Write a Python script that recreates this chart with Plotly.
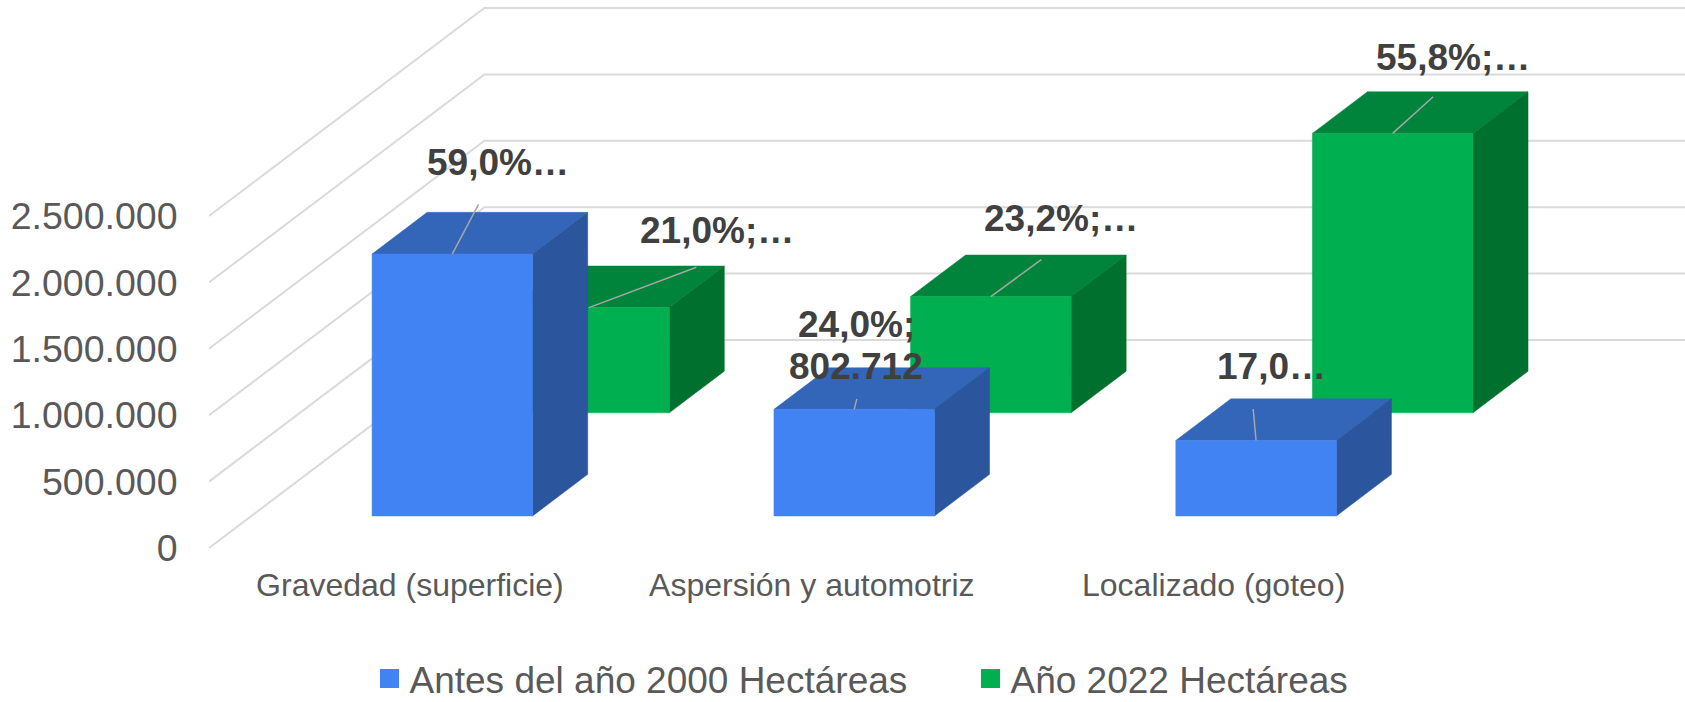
import plotly.graph_objects as go

categories = ["Gravedad (superficie)", "Aspersión y automotriz", "Localizado (goteo)"]
antes_2000 = [1973000, 802712, 568600]
ano_2022 = [792000, 875000, 2104000]
antes_labels = [["59,0%…"], ["24,0%;", "802.712"], ["17,0…"]]
ano_labels = [["21,0%;…"], ["23,2%;…"], ["55,8%;…"]]
y_ticks = [0, 500000, 1000000, 1500000, 2000000, 2500000]
y_tick_labels = ["0", "500.000", "1.000.000", "1.500.000", "2.000.000", "2.500.000"]
series_names = ["Antes del año 2000 Hectáreas", "Año 2022 Hectáreas"]

W, H = 1685, 702
ML, MB = 208.5, 154
PX_X = 402.0          # px per category
PX_Y = 66.4 / 500000  # px per hectare
BAR_W = 160.6 / PX_X
WALL_X = 275.5 / PX_X          # depth direction in category units
WALL_Y = 208.0 / PX_Y          # depth direction in hectares
BAR_DEPTH = 0.2
DEPTH_BLUE, DEPTH_GREEN = 0.154, 0.65
BLUE = ("#4283F3", "#3366B8", "#2B559C")
GREEN = ("#00B050", "#00843C", "#00702F")

traces = []


def poly(xs, ys, color):
    traces.append(go.Scatter(x=xs, y=ys, mode="lines", fill="toself", fillcolor=color,
                             line=dict(color=color, width=0.5), hoverinfo="skip", showlegend=False))


# wall and back gridlines
for t in y_ticks:
    traces.append(go.Scatter(
        x=[-0.5, -0.5 + WALL_X, 2.5 + WALL_X],
        y=[t, t + WALL_Y, t + WALL_Y],
        mode="lines", line=dict(color="#DADADA", width=2), hoverinfo="skip", showlegend=False))


def bar(i, value, depth, colors):
    x0 = i + depth * WALL_X - BAR_W / 2
    x1 = x0 + BAR_W
    y0 = depth * WALL_Y
    y1 = y0 + value
    dx = BAR_DEPTH * WALL_X
    dy = BAR_DEPTH * WALL_Y
    poly([x0, x1, x1 + dx, x0 + dx, x0], [y1, y1, y1 + dy, y1 + dy, y1], colors[1])
    poly([x1, x1 + dx, x1 + dx, x1, x1], [y0, y0 + dy, y1 + dy, y1, y0], colors[2])
    poly([x0, x1, x1, x0, x0], [y0, y0, y1, y1, y0], colors[0])
    return (x0 + x1) / 2, y1


annotations = []


def label(pt, lines, tx, ty, lx, ly):
    # leader from bar top (px offsets lx, ly) and label text (px offsets tx, ty per line)
    annotations.append(dict(x=pt[0], y=pt[1], ax=lx, ay=ly, axref="pixel", ayref="pixel",
                            text="", showarrow=True, arrowhead=0, arrowwidth=1.5,
                            arrowcolor="#A6A6A6", standoff=0, startstandoff=0))
    for k, line in enumerate(lines):
        annotations.append(dict(x=pt[0], y=pt[1], text=line, showarrow=False,
                                xshift=tx, yshift=ty - 42 * k,
                                font=dict(family="Liberation Sans", size=37, color="#404040", weight="bold")))


green_tops = [bar(i, v, DEPTH_GREEN, GREEN) for i, v in enumerate(ano_2022)]
blue_tops = [bar(i, v, DEPTH_BLUE, BLUE) for i, v in enumerate(antes_2000)]

label(blue_tops[0], antes_labels[0], 46, 91, 27, -51)
label(blue_tops[1], antes_labels[1], 2, 85, 3, -12)
label(blue_tops[2], antes_labels[2], 15, 74, -3, -33)
label(green_tops[0], ano_labels[0], 128, 77, 109, -41)
label(green_tops[1], ano_labels[1], 70, 78, 52, -38)
label(green_tops[2], ano_labels[2], 60, 76, 42, -38)

for name, color in zip(series_names, (BLUE[0], GREEN[0])):
    traces.append(go.Scatter(x=[None], y=[None], mode="markers", name=name,
                             marker=dict(symbol="square", size=16, color=color,
                                         line=dict(color=color, width=3))))

fig = go.Figure(traces)
fig.update_layout(
    width=W, height=H, autosize=False,
    margin=dict(l=ML, r=0, t=0, b=MB, pad=0),
    paper_bgcolor="white", plot_bgcolor="white",
    font=dict(family="Liberation Sans", color="#595959"),
    xaxis=dict(range=[-0.5, -0.5 + (W - ML) / PX_X], tickvals=[0, 1, 2], ticktext=categories,
               showgrid=False, zeroline=False, showline=False, ticks="outside", ticklen=9,
               tickcolor="rgba(0,0,0,0)", tickfont=dict(size=32, color="#595959")),
    yaxis=dict(range=[0, (H - MB) / PX_Y], tickvals=y_ticks, ticktext=y_tick_labels,
               showgrid=False, zeroline=False, showline=False, ticks="outside", ticklen=23,
               tickcolor="rgba(0,0,0,0)", tickfont=dict(size=37.5, color="#595959")),
    legend=dict(orientation="h", xref="container", yref="container",
                x=369.5 / W, xanchor="left", y=1 - 679 / H,
                yanchor="middle", font=dict(size=37, color="#595959"), itemsizing="trace",
                itemwidth=30, entrywidthmode="pixels", entrywidth=556, bgcolor="rgba(0,0,0,0)"),
    annotations=annotations,
)
fig.write_html("out.html", config={"displayModeBar": False},
               post_script="document.body.style.margin='0';")
